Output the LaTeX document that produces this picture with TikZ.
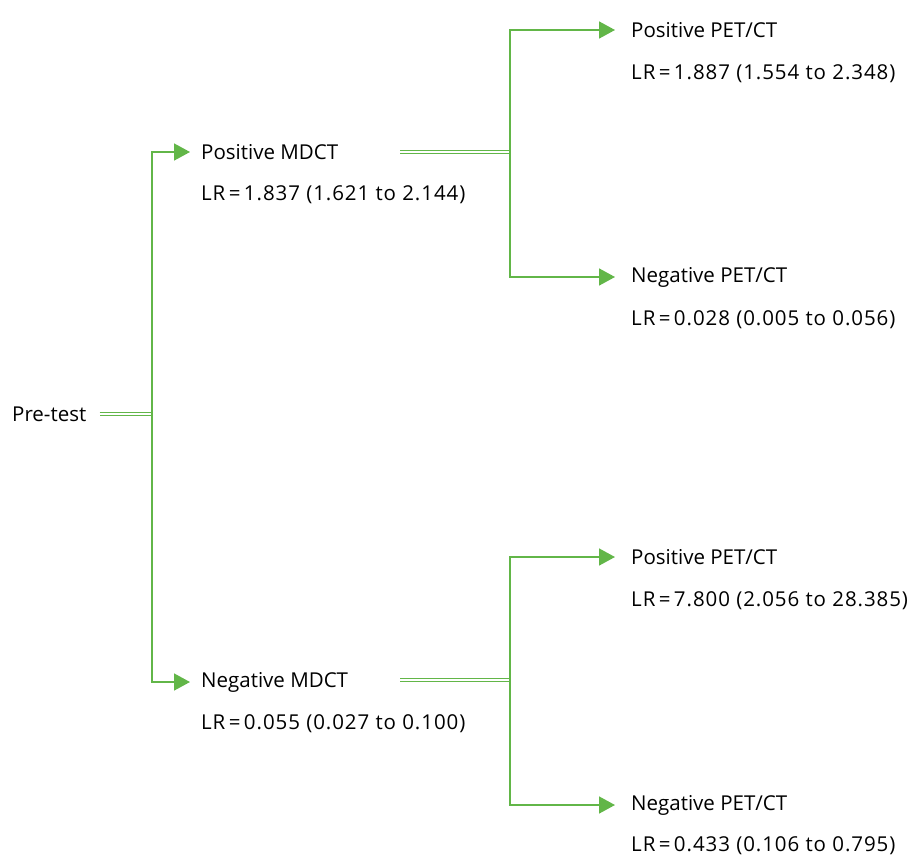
\documentclass[tikz,border=0pt]{standalone}
\usepackage{fontspec}
\setmainfont{Open Sans}
\newfontfamily\lrfont{Open Sans}[LetterSpace=4.5]
\usetikzlibrary{arrows.meta}
\definecolor{treegreen}{RGB}{98,182,72}

\begin{document}
\begin{tikzpicture}[x=1pt,y=-1pt,
branch/.style={draw=treegreen,line width=1.6pt,-{Triangle[length=16pt,width=17pt]},shorten >=#1},
twin/.style={draw=treegreen,line width=1.4pt,double=white,double distance=1.6pt},
lrtext/.style={font=\fontsize{20.5}{24}\lrfont}]
\tikzstyle{every node}=[anchor=west,inner sep=0pt,font=\fontsize{20.5}{24}\selectfont]
\useasboundingbox (0,0) rectangle (915,857);
\node (Pretest) at (12,414) {Pre-test};
\node (PosMDCT) at (201,152) {Positive MDCT};
\node[lrtext] (PosMDCTlr) at (201,195) {LR\,=\,1.837 (1.621 to 2.144)};
\node (NegMDCT) at (201,682) {Negative MDCT};
\node[lrtext] (NegMDCTlr) at (201,724) {LR\,=\,0.055 (0.027 to 0.100)};
\node (PosPosPET) at (631,30) {Positive PET/CT};
\node[lrtext] (PosPosPETlr) at (631,74) {LR\,=\,1.887 (1.554 to 2.348)};
\node (PosNegPET) at (631,277) {Negative PET/CT};
\node[lrtext] (PosNegPETlr) at (631,320) {LR\,=\,0.028 (0.005 to 0.056)};
\node (NegPosPET) at (631,557) {Positive PET/CT};
\node[lrtext] (NegPosPETlr) at (631,601) {LR\,=\,7.800 (2.056 to 28.385)};
\node (NegNegPET) at (631,805) {Negative PET/CT};
\node[lrtext] (NegNegPETlr) at (631,846) {LR\,=\,0.433 (0.106 to 0.795)};
\coordinate (Root) at (152,414);
\coordinate (PosFork) at (510,152);
\coordinate (NegFork) at (510,680);
\coordinate (PosStart) at (400,152);
\coordinate (NegStart) at (400,680);
\draw[twin,shorten <=13pt] (Pretest.east) -- (Root);
\draw[branch=11pt] (Root) |- (PosMDCT.west);
\draw[branch=11pt] (Root) |- (NegMDCT.west);
\draw[twin] (PosStart) -- (PosFork);
\draw[branch=16pt] (PosFork) |- (PosPosPET.west);
\draw[branch=16pt] (PosFork) |- (PosNegPET.west);
\draw[twin] (NegStart) -- (NegFork);
\draw[branch=16pt] (NegFork) |- (NegPosPET.west);
\draw[branch=16pt] (NegFork) |- (NegNegPET.west);
\end{tikzpicture}
\end{document}
